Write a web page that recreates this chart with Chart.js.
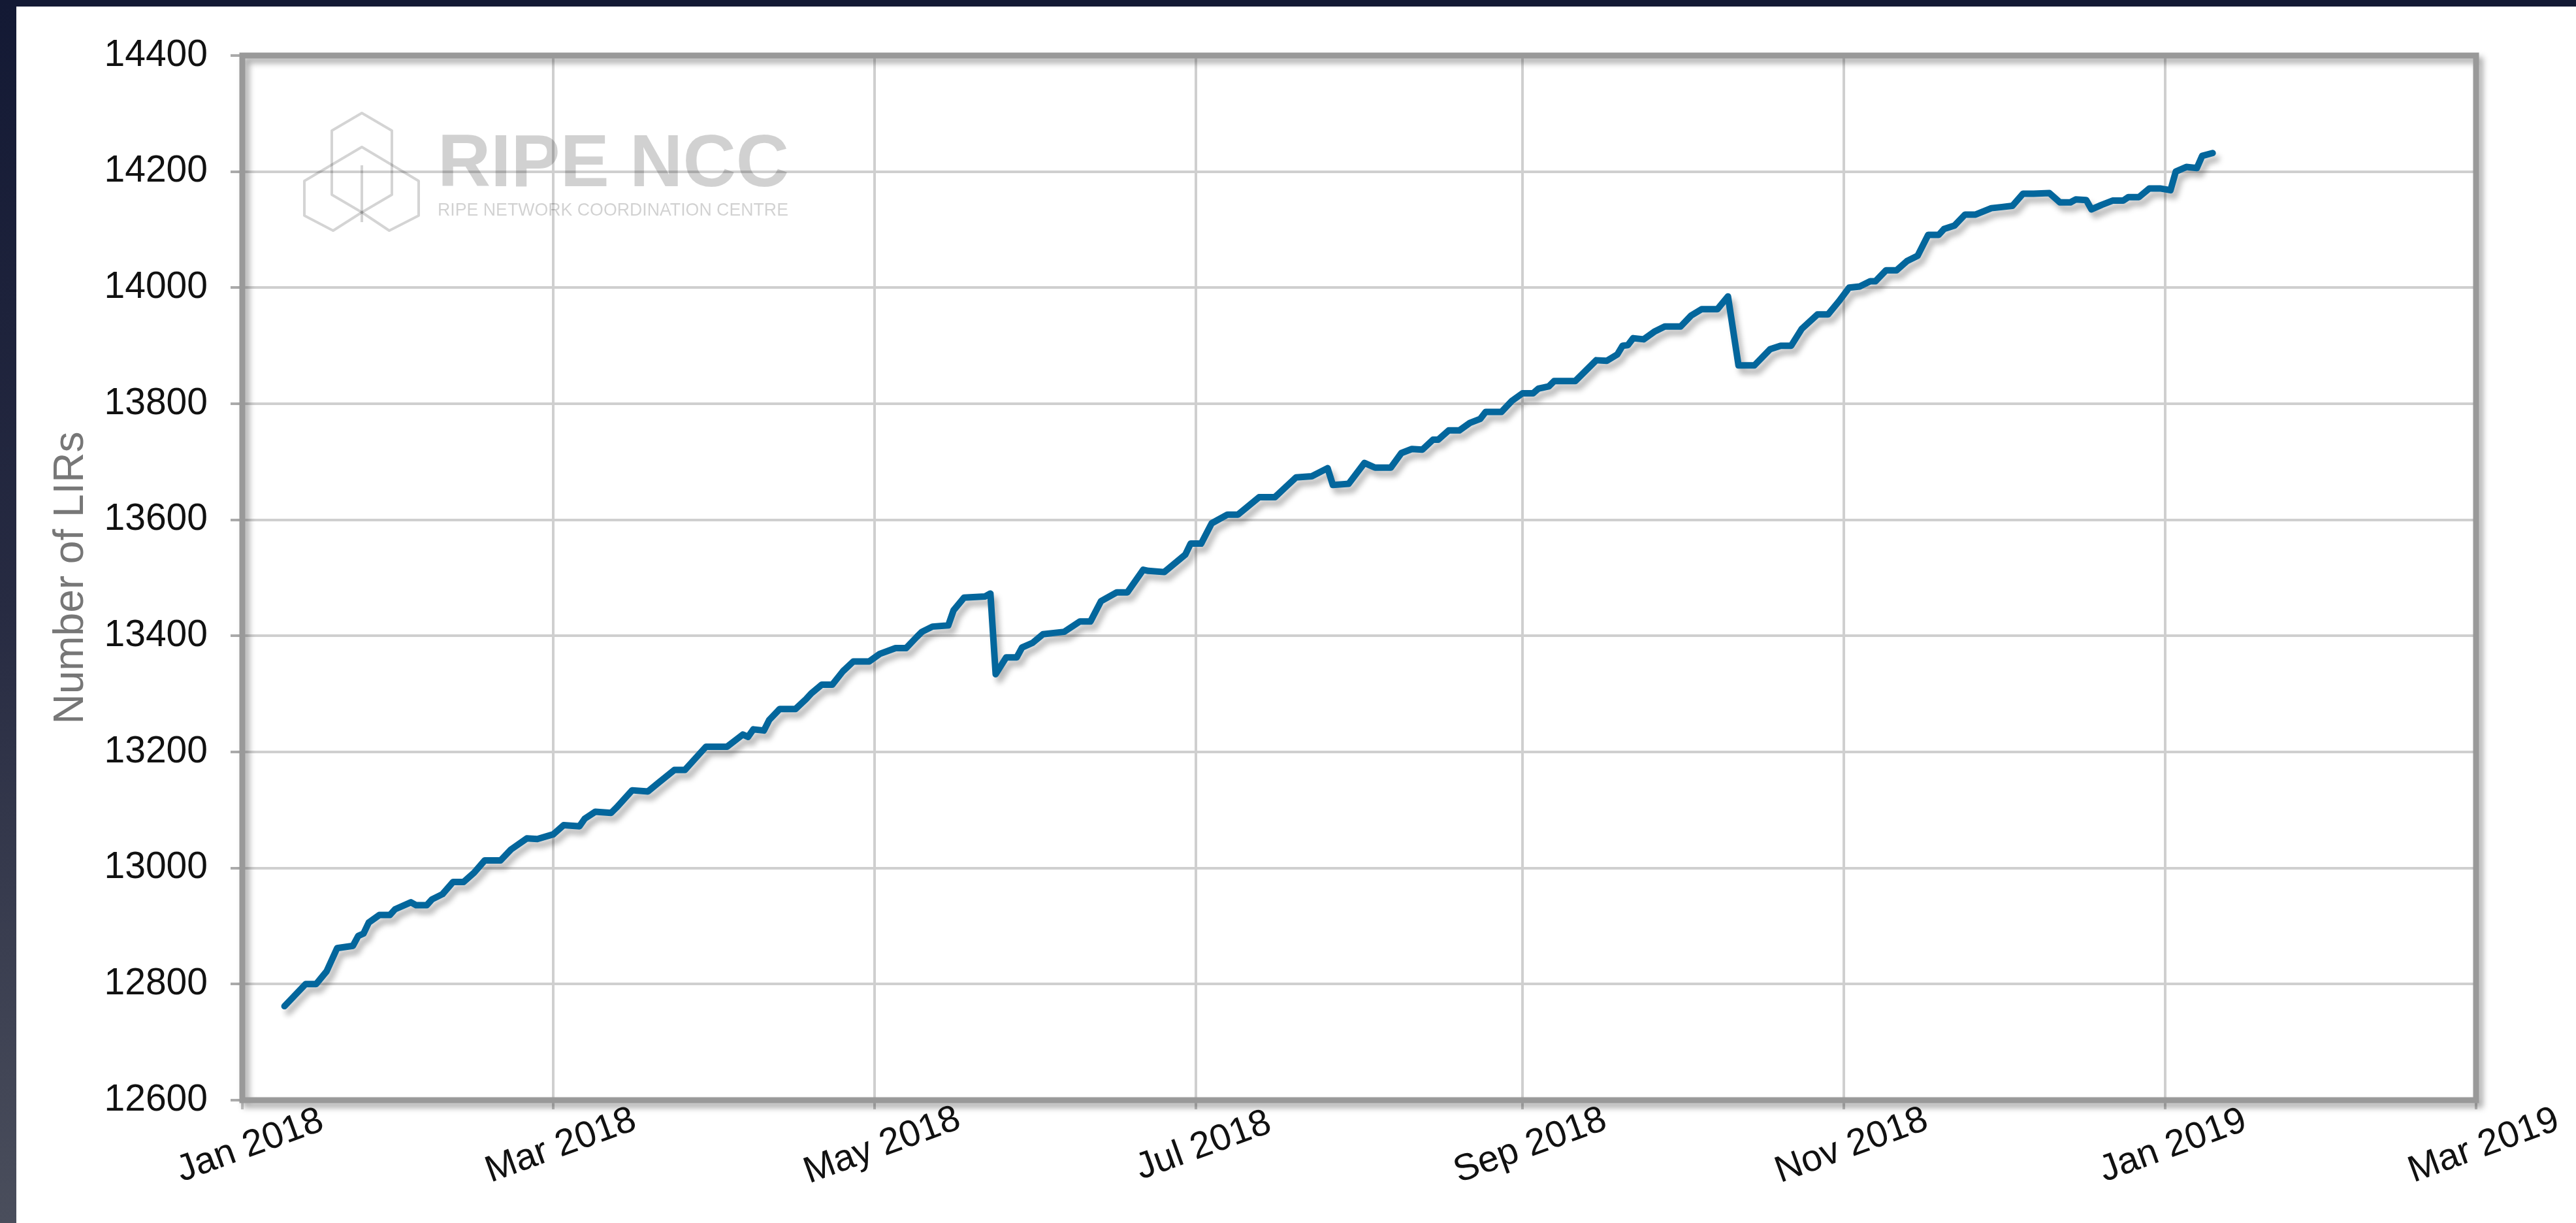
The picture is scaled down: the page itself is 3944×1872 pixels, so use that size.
<!DOCTYPE html>
<html><head><meta charset="utf-8">
<script src="https://cdn.jsdelivr.net/npm/chart.js@4.4.1/dist/chart.umd.min.js"></script>
<style>
html,body{margin:0;padding:0;background:#fff;overflow:hidden;}
#wrap{position:absolute;left:0;top:0;width:3944px;height:1872px;}
#topband{position:absolute;left:0;top:0;width:3944px;height:10px;background:#131934;z-index:2}
#leftband{position:absolute;left:0;top:0;width:25px;height:1872px;background:linear-gradient(#131934,#272b42 50%,#4a4e5c);z-index:2}
</style></head>
<body>
<div id="wrap"><canvas id="c"></canvas></div>
<div id="topband"></div><div id="leftband"></div>
<script>
const dates = [
'2018-01-09','2018-01-13','2018-01-15','2018-01-17','2018-01-19','2018-01-22','2018-01-23','2018-01-24','2018-01-25','2018-01-27',
'2018-01-29','2018-01-30','2018-02-02','2018-02-03','2018-02-05','2018-02-06','2018-02-08','2018-02-10','2018-02-12','2018-02-14',
'2018-02-16','2018-02-19','2018-02-21','2018-02-24','2018-02-26','2018-03-01','2018-03-03','2018-03-06','2018-03-07','2018-03-09',
'2018-03-12','2018-03-13','2018-03-16','2018-03-19','2018-03-21','2018-03-24','2018-03-26','2018-03-30','2018-04-03','2018-04-06',
'2018-04-07','2018-04-08','2018-04-10','2018-04-11','2018-04-13','2018-04-16','2018-04-18','2018-04-19','2018-04-21','2018-04-23',
'2018-04-25','2018-04-27','2018-04-30','2018-05-02','2018-05-05','2018-05-07','2018-05-09','2018-05-10','2018-05-12','2018-05-15',
'2018-05-16','2018-05-18','2018-05-22','2018-05-23','2018-05-24','2018-05-26','2018-05-28','2018-05-29','2018-05-31','2018-06-02',
'2018-06-04','2018-06-06','2018-06-09','2018-06-11','2018-06-13','2018-06-16','2018-06-18','2018-06-21','2018-06-22','2018-06-25',
'2018-06-29','2018-06-30','2018-07-02','2018-07-04','2018-07-07','2018-07-09','2018-07-11','2018-07-13','2018-07-16','2018-07-18',
'2018-07-20','2018-07-23','2018-07-26','2018-07-27','2018-07-30','2018-08-02','2018-08-04','2018-08-07','2018-08-09','2018-08-11',
'2018-08-13','2018-08-15','2018-08-16','2018-08-18','2018-08-20','2018-08-22','2018-08-24','2018-08-25','2018-08-28','2018-08-30',
'2018-09-01','2018-09-03','2018-09-04','2018-09-06','2018-09-07','2018-09-11','2018-09-12','2018-09-15','2018-09-17','2018-09-19',
'2018-09-20','2018-09-21','2018-09-22','2018-09-24','2018-09-26','2018-09-28','2018-10-01','2018-10-03','2018-10-05','2018-10-08',
'2018-10-10','2018-10-12','2018-10-15','2018-10-18','2018-10-20','2018-10-22','2018-10-24','2018-10-27','2018-10-29','2018-10-31',
'2018-11-02','2018-11-04','2018-11-06','2018-11-07','2018-11-09','2018-11-11','2018-11-13','2018-11-15','2018-11-17','2018-11-19',
'2018-11-20','2018-11-22','2018-11-24','2018-11-26','2018-11-29','2018-12-01','2018-12-03','2018-12-05','2018-12-07','2018-12-10',
'2018-12-12','2018-12-14','2018-12-15','2018-12-17','2018-12-18','2018-12-20','2018-12-22','2018-12-24','2018-12-25','2018-12-27',
'2018-12-29','2018-12-31','2019-01-02','2019-01-03','2019-01-05','2019-01-07','2019-01-08','2019-01-10'
];
const lirCounts = [
12762,12800,12800,12822,12862,12866,12883,12887,12906,12919,
12919,12929,12941,12936,12936,12946,12955,12976,12976,12992,
13013,13013,13032,13051,13050,13058,13074,13072,13085,13097,
13095,13104,13134,13132,13147,13169,13169,13209,13209,13230,
13226,13239,13237,13255,13274,13274,13291,13301,13316,13316,
13339,13356,13356,13369,13379,13379,13398,13407,13416,13418,
13444,13466,13468,13473,13334,13363,13363,13380,13388,13403,
13405,13407,13425,13425,13460,13475,13475,13514,13512,13510,
13540,13559,13559,13594,13609,13609,13624,13639,13639,13656,
13673,13675,13689,13660,13662,13698,13690,13690,13715,13722,
13721,13738,13738,13754,13754,13767,13774,13786,13786,13805,
13818,13818,13826,13830,13839,13839,13848,13875,13874,13885,
13900,13901,13913,13911,13924,13933,13933,13952,13963,13963,
13985,13866,13866,13894,13900,13900,13929,13954,13954,13976,
14000,14002,14011,14011,14030,14030,14046,14055,14091,14091,
14101,14107,14126,14126,14137,14139,14141,14162,14162,14163,
14147,14147,14152,14151,14135,14143,14150,14150,14156,14156,
14171,14171,14168,14200,14208,14206,14227,14232
];
const tickDates = ['2018-01-01','2018-03-01','2018-05-01','2018-07-01','2018-09-01','2018-11-01','2019-01-01','2019-03-01'];
const tickLabels = ['Jan 2018','Mar 2018','May 2018','Jul 2018','Sep 2018','Nov 2018','Jan 2019','Mar 2019'];
const yMin = 12600, yMax = 14400, yStep = 200;
const yTitle = 'Number of LIRs';
const wmTitle = 'RIPE NCC';
const wmSub = 'RIPE NETWORK COORDINATION CENTRE';

const FONT = '"Liberation Sans", Arial, Helvetica, sans-serif';
const origin = Date.parse(tickDates[0] + 'T00:00:00Z');
const toDay = s => (Date.parse(s + 'T00:00:00Z') - origin) / 86400000;
const tickDays = tickDates.map(toDay);
const points = dates.map((d, i) => ({x: toDay(d), y: lirCounts[i]}));

const lineShadow = {
  id: 'lineShadow',
  beforeDatasetDraw(chart) {
    const c = chart.ctx; c.save();
    c.shadowColor = 'rgba(0,0,0,0.28)'; c.shadowBlur = 8; c.shadowOffsetX = 6; c.shadowOffsetY = 9;
  },
  afterDatasetDraw(chart) { chart.ctx.restore(); }
};

const watermark = {
  id: 'watermark',
  beforeDatasetsDraw(chart) {
    const c = chart.ctx, a = chart.chartArea;
    const L = a.left, T = a.top;
    c.save();
    c.strokeStyle = 'rgba(0,0,0,0.17)'; c.lineWidth = 4; c.lineJoin = 'round';
    const poly = (pts, close) => { c.beginPath(); pts.forEach((p, i) => i ? c.lineTo(L + p[0], T + p[1]) : c.moveTo(L + p[0], T + p[1])); if (close) c.closePath(); c.stroke(); };
    poly([[183,88],[229,115],[229,213],[183,240],[137,213],[137,115]], true);
    poly([[183,140],[270,192],[270,245],[225,268],[183,240],[139,268],[95,245],[95,192]], true);
    poly([[183,168],[183,255]], false);
    c.fillStyle = 'rgba(0,0,0,0.18)';
    c.textBaseline = 'alphabetic'; c.textAlign = 'left';
    c.font = 'bold 113px ' + FONT;
    let w = c.measureText(wmTitle).width;
    c.save(); c.translate(L + 299, T + 200); c.scale(538 / w, 1); c.fillText(wmTitle, 0, 0); c.restore();
    c.font = '28px ' + FONT;
    w = c.measureText(wmSub).width;
    c.save(); c.translate(L + 299, T + 245); c.scale(537 / w, 1); c.fillText(wmSub, 0, 0); c.restore();
    c.restore();
  }
};

const frame = {
  id: 'frame',
  afterDatasetsDraw(chart) {
    const c = chart.ctx, a = chart.chartArea;
    c.save();
    c.shadowColor = 'rgba(0,0,0,0.35)'; c.shadowBlur = 10; c.shadowOffsetX = 6; c.shadowOffsetY = 7;
    c.strokeStyle = '#999999'; c.lineWidth = 9;
    c.strokeRect(a.left, a.top, a.right - a.left, a.bottom - a.top);
    c.restore();
  }
};

const xLabels = {
  id: 'xLabels',
  afterDraw(chart) {
    const c = chart.ctx, xs = chart.scales.x, a = chart.chartArea;
    c.save();
    c.font = '57px ' + FONT; c.fillStyle = '#111'; c.textAlign = 'center'; c.textBaseline = 'middle';
    tickDays.forEach((d, i) => {
      c.save();
      c.translate(xs.getPixelForValue(d) + 12, a.bottom + 70);
      c.rotate(-20 * Math.PI / 180);
      c.fillText(tickLabels[i], 0, 0);
      c.restore();
    });
    c.restore();
  }
};

new Chart(document.getElementById('c'), {
  type: 'line',
  data: { datasets: [{
    data: points,
    borderColor: '#03669c',
    borderWidth: 10,
    pointRadius: 0,
    tension: 0,
    borderJoinStyle: 'round',
    borderCapStyle: 'round',
    fill: false
  }]},
  options: {
    responsive: true,
    maintainAspectRatio: false,
    devicePixelRatio: 1,
    animation: false,
    layout: { padding: { top: 85, right: 153, left: 0, bottom: 0 } },
    plugins: { legend: { display: false }, tooltip: { enabled: false } },
    scales: {
      x: {
        type: 'linear',
        min: tickDays[0], max: tickDays[tickDays.length - 1],
        afterBuildTicks: s => { s.ticks = tickDays.map(v => ({value: v})); },
        afterFit: s => { s.height = 188; },
        ticks: { display: false },
        grid: { color: '#cfcfcf', lineWidth: 4, drawTicks: true, tickLength: 14, tickColor: '#c4c4c4', tickWidth: 4 },
        border: { display: false }
      },
      y: {
        min: yMin, max: yMax,
        afterBuildTicks: s => { const t = []; for (let v = yMin; v <= yMax; v += yStep) t.push({value: v}); s.ticks = t; },
        afterFit: s => { s.width = 371; },
        ticks: { color: '#111', padding: 35, font: { family: FONT, size: 57 }, callback: v => String(v) },
        grid: { color: '#cfcfcf', lineWidth: 4, drawTicks: true, tickLength: 18, tickColor: '#aaaaaa', tickWidth: 4 },
        border: { display: false },
        title: { display: true, text: yTitle, color: '#777', font: { family: FONT, size: 64 }, padding: { top: 71, bottom: 0 } }
      }
    }
  },
  plugins: [lineShadow, watermark, frame, xLabels]
});
</script>
</body></html>
